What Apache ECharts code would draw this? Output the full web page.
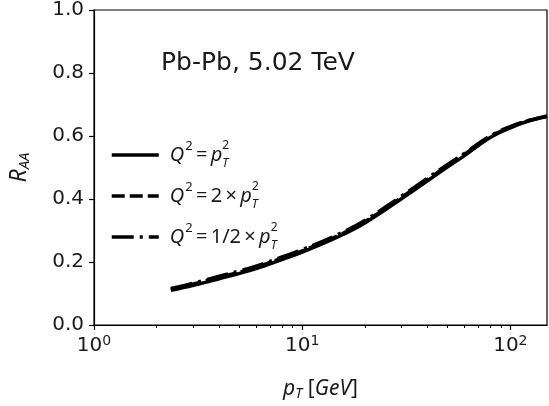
<!DOCTYPE html>
<html>
<head>
<meta charset="utf-8">
<script src="https://cdn.jsdelivr.net/npm/echarts@6/dist/echarts.min.js"></script>
<style>html,body{margin:0;padding:0;background:#fff}#c{width:549px;height:406px}</style>
</head>
<body>
<div id="c"></div>
<script>
// ---- data ----
var pT = [2.34, 3, 4, 5, 6, 8, 10, 15, 20, 30, 40, 50, 60, 80, 100, 120, 150];
var raaQ2 = [0.110, 0.126, 0.147, 0.164, 0.179, 0.208, 0.231, 0.281, 0.324, 0.401, 0.458, 0.502, 0.537, 0.595, 0.626, 0.646, 0.662];
var raa2Q2 = [0.113, 0.130, 0.151, 0.168, 0.183, 0.212, 0.235, 0.285, 0.328, 0.405, 0.462, 0.506, 0.541, 0.598, 0.628, 0.647, 0.663];
var raaHalfQ2 = [0.116, 0.133, 0.155, 0.172, 0.187, 0.216, 0.239, 0.289, 0.332, 0.409, 0.466, 0.510, 0.544, 0.600, 0.630, 0.648, 0.663];
var seriesNames = ['Q2=pT2', 'Q2=2pT2', 'Q2=half pT2'];
var xMajorTicks = [1, 10, 100];
var xMinorTicks = [2, 3, 4, 5, 6, 7, 8, 9, 20, 30, 40, 50, 60, 70, 80, 90];
var annotation = 'Pb-Pb, 5.02 TeV';

function pairs(xs, ys) { return xs.map(function (x, i) { return [x, ys[i]]; }); }

var TXT = '#1a1a1a';
var mathFont = 'Noto Sans';
var legendLabels = {
  'Q2=pT2': '{i|Q}{sup|2}{n|\u2009=\u2009}{i|p}{sub|T}{sup2|2}',
  'Q2=2pT2': '{i|Q}{sup|2}{n|\u2009=\u20092\u2009×\u2009}{i|p}{sub|T}{sup2|2}',
  'Q2=half pT2': '{i|Q}{sup|2}{n|\u2009=\u20091/2\u2009×\u2009}{i|p}{sub|T}{sup2|2}'
};
var richMath = {
  i: {fontFamily: mathFont, fontStyle: 'italic', fontSize: 20, color: TXT, lineHeight: 30},
  n: {fontFamily: mathFont, fontSize: 20, color: TXT, lineHeight: 30},
  sup: {fontFamily: mathFont, fontSize: 13, color: TXT, verticalAlign: 'top', lineHeight: 30, padding: [0, 0, 10, 1]},
  sup2: {fontFamily: mathFont, fontSize: 12, color: TXT, verticalAlign: 'top', lineHeight: 30, padding: [0, 0, 11, 0]},
  sub: {fontFamily: mathFont, fontStyle: 'italic', fontSize: 12, color: TXT, verticalAlign: 'bottom', lineHeight: 30, padding: [7, 0, 0, 0], width: 0.1}
};

var chart = echarts.init(document.getElementById('c'), null, {renderer: 'canvas'});
var option = {
  animation: false,
  grid: {left: 92, right: 2, top: 10, bottom: 81, show: true, borderColor: '#000', borderWidth: 1.2, backgroundColor: 'transparent'},
  legend: {
    orient: 'vertical', left: 105, top: 135, itemGap: 11, itemWidth: 47, itemHeight: 14,
    data: seriesNames,
    formatter: function (n) { return legendLabels[n]; },
    textStyle: {rich: richMath, padding: [0, 0, 0, 6]},
    itemStyle: {opacity: 0, borderWidth: 0},
    lineStyle: {width: 3.5, opacity: 1}
  },
  xAxis: [{
    type: 'log', logBase: 10, min: 1, max: 150,
    axisLine: {show: true, onZero: false, lineStyle: {color: '#000', width: 1.2}},
    axisTick: {show: true, length: 5, lineStyle: {color: '#000', width: 1.2}, customValues: xMajorTicks},
    axisLabel: {
      customValues: xMajorTicks, margin: 9,
      formatter: function (v) { return '{b|10}{s|' + Math.round(Math.log10(v)) + '}'; },
      rich: {
        b: {fontFamily: 'DejaVu Sans', fontSize: 20, color: TXT},
        s: {fontFamily: 'DejaVu Sans', fontSize: 14, color: TXT, verticalAlign: 'top', padding: [0, 0, 10, 0]}
      }
    },
    splitLine: {show: false},
    name: '{i|p}{sub|T}{n| [}{i|GeV}{n|]}', nameLocation: 'middle', nameGap: 52,
    nameTextStyle: {rich: {
      i: {fontFamily: mathFont, fontStyle: 'italic', fontSize: 21, color: TXT},
      n: {fontFamily: mathFont, fontSize: 21, color: TXT},
      sub: {fontFamily: mathFont, fontStyle: 'italic', fontSize: 14, color: TXT, verticalAlign: 'bottom', padding: [10, 0, 0, 0]}
    }}
  }, {
    type: 'log', logBase: 10, min: 1, max: 150, position: 'bottom',
    axisLine: {show: false},
    axisTick: {show: true, length: 3, lineStyle: {color: '#000', width: 1}, customValues: xMinorTicks},
    axisLabel: {show: false},
    splitLine: {show: false}
  }],
  yAxis: {
    type: 'value', min: 0, max: 1, interval: 0.2,
    axisLine: {show: true, lineStyle: {color: '#000', width: 1.2}},
    axisTick: {show: true, length: 5, lineStyle: {color: '#000', width: 1.2}},
    axisLabel: {margin: 10, fontFamily: 'DejaVu Sans', fontSize: 20, color: TXT,
      formatter: function (v) { return v.toFixed(1); }},
    splitLine: {show: false},
    name: '{i|R}{sub|AA}', nameLocation: 'middle', nameGap: 62, nameRotate: 90,
    nameTextStyle: {rich: {
      i: {fontFamily: mathFont, fontStyle: 'italic', fontSize: 23, color: TXT},
      sub: {fontFamily: mathFont, fontStyle: 'italic', fontSize: 15, color: TXT, verticalAlign: 'bottom', padding: [10, 0, 0, 0]}
    }}
  },
  graphic: [{
    type: 'text', x: 258, y: 63,
    style: {text: annotation, fontFamily: 'DejaVu Sans', fontSize: 25, fill: TXT, align: 'center', verticalAlign: 'middle'}
  }],
  series: [
    {name: seriesNames[0], type: 'line', data: pairs(pT, raaQ2), smooth: 0.4, symbol: 'none',
      lineStyle: {color: '#000', width: 3.5, type: 'solid'}, itemStyle: {color: '#000'}, z: 3},
    {name: seriesNames[1], type: 'line', data: pairs(pT, raa2Q2), smooth: 0.4, symbol: 'none',
      lineStyle: {color: '#000', width: 3.5, type: [13, 5]}, itemStyle: {color: '#000'}, z: 4},
    {name: seriesNames[2], type: 'line', data: pairs(pT, raaHalfQ2), smooth: 0.4, symbol: 'none',
      lineStyle: {color: '#000', width: 3.5, type: [22, 6, 3, 6]}, itemStyle: {color: '#000'}, z: 5}
  ]
};
chart.setOption(option);
</script>
</body>
</html>
